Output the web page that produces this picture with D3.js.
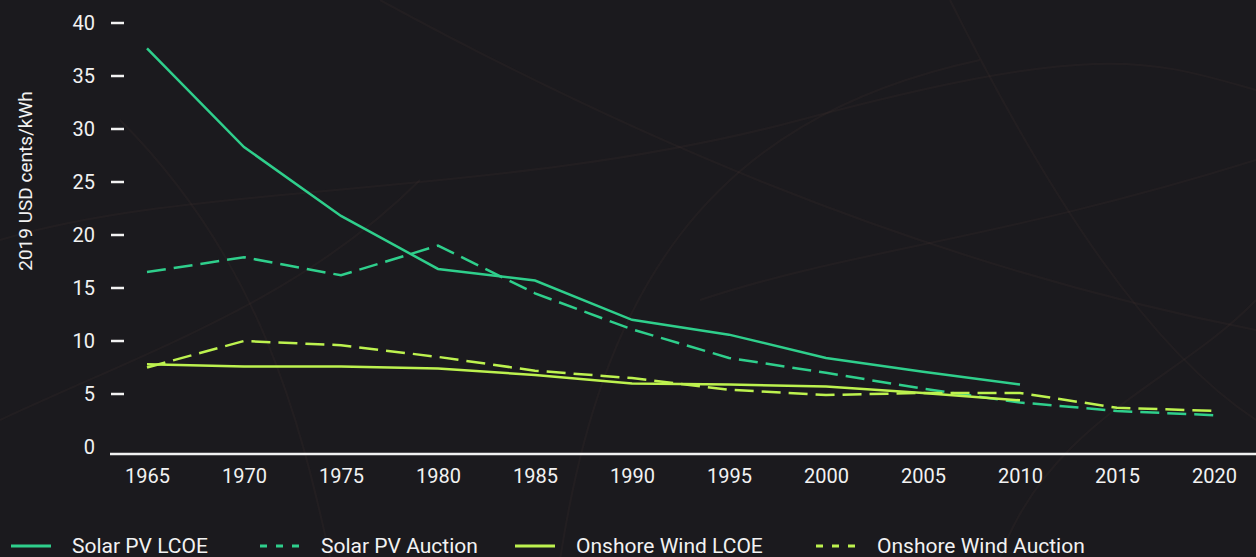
<!DOCTYPE html>
<html>
<head>
<meta charset="utf-8">
<script src="https://cdn.jsdelivr.net/npm/d3@7"></script>
<style>
  html, body { margin: 0; padding: 0; background: #1b1a1e; }
  svg { display: block; font-family: Roboto, "Noto Sans", sans-serif; }
</style>
</head>
<body>
<svg id="chart" width="1256" height="557"></svg>
<script>
// Data (2019 USD cents/kWh)
var years = [1965, 1970, 1975, 1980, 1985, 1990, 1995, 2000, 2005, 2010, 2015, 2020];
var yTicks = [0, 5, 10, 15, 20, 25, 30, 35, 40];
var solarLcoe    = [37.6, 28.3, 21.8, 16.8, 15.7, 12.0, 10.6, 8.4, 7.1, 5.9];
var solarAuction = [16.5, 17.9, 16.2, 19.0, 14.5, 11.1, 8.4, 7.0, 5.5, 4.2, 3.4, 3.0];
var windLcoe     = [7.8, 7.6, 7.6, 7.4, 6.8, 6.0, 5.9, 5.7, 5.1, 4.4];
var windAuction  = [7.5, 10.0, 9.6, 8.5, 7.2, 6.5, 5.4, 4.9, 5.1, 5.1, 3.7, 3.4];
var seriesNames  = ["Solar PV LCOE", "Solar PV Auction", "Onshore Wind LCOE", "Onshore Wind Auction"];

var teal = "#2fcf8c", lime = "#bdf24f";

window.onload = function () {
   drawBackground();
   drawChart();
};

// faint scratchy texture like the original backdrop
function drawBackground() {
   var svg = d3.select("#chart");
   svg.append("rect").attr("width", 1256).attr("height", 557).attr("fill", "#1b1a1e");
   var g = svg.append("g").attr("fill", "none").attr("stroke", "#7a5e48").attr("stroke-opacity", 0.08);
   var curves = [
      "M0,240 C200,180 500,200 800,120 S1150,60 1256,90",
      "M380,0 C600,120 900,260 1256,330",
      "M560,560 C600,300 700,120 980,60",
      "M950,0 C1050,200 1150,350 1256,420",
      "M0,420 C150,350 300,300 420,180",
      "M700,300 C850,250 1000,240 1256,160",
      "M1000,557 C1050,420 1180,380 1256,300",
      "M120,120 C260,260 300,420 330,557"
   ];
   g.selectAll("path").data(curves).enter().append("path")
      .attr("d", function (d) { return d; })
      .attr("stroke-width", 2);
}

function drawChart() {
   var svg = d3.select("#chart");

   var x = d3.scaleLinear().domain([1965, 2020]).range([147, 1214]);
   var y = d3.scaleLinear().domain([0, 40]).range([447, 23]);

   // y axis: labels + short dashes
   var yAxis = svg.append("g");
   yAxis.selectAll("text").data(yTicks).enter().append("text")
      .attr("x", 95)
      .attr("y", function (d) { return y(d); })
      .attr("dy", "0.35em")
      .attr("text-anchor", "end")
      .attr("fill", "#f2f2f2")
      .style("font-size", "20px")
      .text(function (d) { return d; });
   yAxis.selectAll("line").data(yTicks.filter(function (d) { return d > 0; })).enter().append("line")
      .attr("x1", 111).attr("x2", 124)
      .attr("y1", function (d) { return y(d); })
      .attr("y2", function (d) { return y(d); })
      .attr("stroke", "#f2f2f2")
      .attr("stroke-width", 2.5);

   svg.append("text")
      .attr("transform", "translate(32,181) rotate(-90)")
      .attr("text-anchor", "middle")
      .attr("fill", "#f2f2f2")
      .style("font-size", "19px")
      .text("2019 USD cents/kWh");

   // x axis
   var xAxis = d3.axisBottom(x)
      .tickValues(years)
      .tickFormat(d3.format("d"))
      .tickSize(0)
      .tickPadding(15);
   var gx = svg.append("g")
      .attr("transform", "translate(0,454)")
      .call(xAxis);
   gx.select(".domain").remove();
   gx.selectAll("text")
      .attr("fill", "#f2f2f2")
      .style("font-size", "20px")
      .style("font-family", "Roboto, sans-serif");
   svg.append("line")
      .attr("x1", 110).attr("x2", 1256)
      .attr("y1", 454).attr("y2", 454)
      .attr("stroke", "#f2f2f2")
      .attr("stroke-width", 2.5);

   // lines
   var line = d3.line()
      .x(function (d) { return x(d[0]); })
      .y(function (d) { return y(d[1]); });

   var series = [
      { name: seriesNames[0], values: solarLcoe,    color: teal, dash: null },
      { name: seriesNames[1], values: solarAuction, color: teal, dash: "19,8" },
      { name: seriesNames[2], values: windLcoe,     color: lime, dash: null },
      { name: seriesNames[3], values: windAuction,  color: lime, dash: "19,8" }
   ];

   svg.append("g").selectAll("path")
      .data(series)
      .enter().append("path")
         .attr("d", function (s) { return line(s.values.map(function (v, i) { return [years[i], v]; })); })
         .attr("fill", "none")
         .attr("stroke", function (s) { return s.color; })
         .attr("stroke-width", 2.5)
         .attr("stroke-dasharray", function (s) { return s.dash; });

   // legend
   var legendX = [11, 260, 515, 816];
   var lg = svg.append("g").selectAll("g")
      .data(series)
      .enter().append("g")
         .attr("transform", function (s, i) { return "translate(" + legendX[i] + ",546)"; });
   lg.append("line")
      .attr("x1", 0).attr("x2", 40)
      .attr("stroke", function (s) { return s.color; })
      .attr("stroke-width", 3)
      .attr("stroke-dasharray", function (s) { return s.dash ? "7,9" : null; });
   lg.append("text")
      .attr("x", 61)
      .attr("y", 7)
      .attr("fill", "#f2f2f2")
      .style("font-size", "21px")
      .text(function (s) { return s.name; });
}
</script>
</body>
</html>
